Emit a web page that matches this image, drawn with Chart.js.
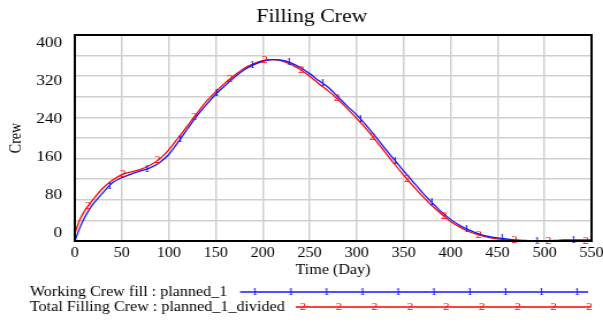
<!DOCTYPE html>
<html lang="en">
<head>
<meta charset="UTF-8">
<title>Filling Crew</title>
<script src="https://cdn.jsdelivr.net/npm/chart.js"></script>
<style>
  html, body { margin: 0; padding: 0; background: #fff; overflow: hidden; }
  /* the reference is a horizontally stretched Vensim plot, so draw narrow and stretch */
  #wrap { width: 524px; height: 323px; transform: scaleX(1.1508); transform-origin: 0 0; }
</style>
</head>
<body>
<div id="wrap"><canvas id="crewChart" width="524" height="323"></canvas></div>
<script>
const days = [0, 5, 10, 15, 20, 30, 40, 50, 60, 70, 80, 90, 100, 110, 120, 130, 140, 150, 160, 170,
  180, 190, 200, 210, 220, 230, 240, 250, 260, 270, 280, 290, 300, 310, 320, 330, 340, 350, 360, 370,
  380, 390, 400, 410, 420, 430, 440, 450, 460, 470, 480, 490, 500, 510, 520, 530, 540, 550];

const workingCrew = [0, 24, 44, 60, 73, 94, 113, 123, 130, 136, 142, 152, 168, 192, 218, 243, 265, 285, 302, 318,
  332, 342, 349, 352, 351, 346, 337, 325, 311, 298, 280, 262, 245, 225, 203, 180, 158, 136, 115, 94,
  75, 57, 42, 30, 21, 14, 9, 6, 4, 2, 1, 0, 0, 1, 2, 2, 2, 2];

const totalCrew = [15, 40, 57, 70, 82, 103, 118, 129, 134, 139, 147, 159, 177, 200, 224, 248, 271, 290, 307, 322,
  335, 344, 350, 352, 350, 343, 333, 320, 305, 291, 275, 257, 238, 218, 196, 173, 150, 128, 107, 87,
  69, 53, 38, 27, 18, 12, 7, 4, 2, 1, 0, 0, 0, 0, 0, 0, 0, 0];

// where the "1" and "2" labels sit along each line
const workingMarkerDays = [37, 77, 112, 151, 189, 228, 264, 304, 341, 380, 417, 455, 492, 531];
const totalMarkerDays = [14, 51, 88, 127, 165, 202, 241, 279, 317, 354, 393, 430, 468, 504, 544];

const yTickLabels = [0, 80, 160, 240, 320, 400];
const seriesNames = ['Working Crew fill : planned_1', 'Total Filling Crew : planned_1_divided'];
const seriesMarks = ['1', '2'];
const seriesColors = ['rgb(20,20,255)', 'rgb(255,0,0)'];

const serif = '"Liberation Serif", "Times New Roman", serif';

function valueAt(series, d) {
  for (let i = 1; i < days.length; i++) {
    if (d <= days[i]) {
      const f = (d - days[i - 1]) / (days[i] - days[i - 1]);
      return series[i - 1] + f * (series[i] - series[i - 1]);
    }
  }
  return series[series.length - 1];
}

const vensimDecor = {
  id: 'vensimDecor',
  afterDatasetsDraw(chart) {
    const { ctx, chartArea: a, scales: { x, y } } = chart;
    ctx.save();

    // markers on the curves
    ctx.font = '11px ' + serif;
    ctx.textAlign = 'center';
    ctx.textBaseline = 'middle';
    [[workingCrew, workingMarkerDays], [totalCrew, totalMarkerDays]].forEach(([series, marks], k) => {
      ctx.fillStyle = seriesColors[k];
      marks.forEach(d => {
        ctx.fillText(seriesMarks[k], x.getPixelForValue(d), y.getPixelForValue(valueAt(series, d)));
      });
    });

    // frame
    ctx.strokeStyle = '#000';
    ctx.lineWidth = 2;
    ctx.strokeRect(a.left, a.top, a.right - a.left, a.bottom - a.top);

    // y tick labels, squeezed a little toward the middle like Vensim does
    ctx.fillStyle = '#000';
    ctx.font = '15px ' + serif;
    ctx.textAlign = 'right';
    const mid = (a.top + a.bottom) / 2;
    yTickLabels.forEach(v => {
      const py = mid + (y.getPixelForValue(v) - mid) * 0.922;
      ctx.fillText(String(v), a.left - 11, py);
    });

    // title and axis titles
    ctx.textAlign = 'center';
    ctx.font = '19px ' + serif;
    ctx.fillText('Filling Crew', 271, 17);
    ctx.font = '14px ' + serif;
    ctx.fillText('Time (Day)', 289.4, 270);
    ctx.save();
    ctx.translate(14.8, 138);
    ctx.rotate(-Math.PI / 2);
    ctx.fillText('Crew', 0, 0);
    ctx.restore();

    // legend
    const rows = [
      { y: 292, x0: 208.6, x1: 511, m0: 221.6, n: 10 },
      { y: 307, x0: 257, x1: 513.6, m0: 263.3, n: 9 }
    ];
    rows.forEach((r, k) => {
      ctx.fillStyle = '#000';
      ctx.font = '14px ' + serif;
      ctx.textAlign = 'left';
      ctx.fillText(seriesNames[k], 26, r.y);
      ctx.strokeStyle = seriesColors[k];
      ctx.lineWidth = 1.3;
      ctx.beginPath();
      ctx.moveTo(r.x0, r.y);
      ctx.lineTo(r.x1, r.y);
      ctx.stroke();
      ctx.fillStyle = seriesColors[k];
      ctx.font = '11px ' + serif;
      ctx.textAlign = 'center';
      for (let i = 0; i < r.n; i++) ctx.fillText(seriesMarks[k], r.m0 + i * 31.1, r.y);
    });

    ctx.restore();
  }
};

const ctx = document.getElementById('crewChart').getContext('2d');
new Chart(ctx, {
  type: 'line',
  data: {
    datasets: [{
      label: seriesNames[0],
      data: days.map((d, i) => ({ x: d, y: workingCrew[i] })),
      borderColor: seriesColors[0],
      borderWidth: 1.3,
      pointRadius: 0,
      tension: 0.3,
      fill: false
    }, {
      label: seriesNames[1],
      data: days.map((d, i) => ({ x: d, y: totalCrew[i] })),
      borderColor: seriesColors[1],
      borderWidth: 1.3,
      pointRadius: 0,
      tension: 0.3,
      fill: false
    }]
  },
  options: {
    responsive: false,
    animation: false,
    devicePixelRatio: 1,
    layout: { padding: { left: 0, right: 10, top: 35, bottom: 52 } },
    plugins: { legend: { display: false }, tooltip: { enabled: false } },
    scales: {
      x: {
        type: 'linear',
        min: 0,
        max: 550,
        ticks: { stepSize: 50, maxRotation: 0, autoSkip: false, color: '#000', padding: 4,
                 font: { family: serif, size: 14 } },
        grid: { color: '#cfcfcf', lineWidth: 1.5, drawTicks: false },
        border: { display: false },
        afterFit: s => { s.height = 30; s.paddingLeft = 0; s.paddingRight = 0; }
      },
      y: {
        min: 0,
        max: 400,
        ticks: { stepSize: 40, display: false },
        grid: { color: '#cfcfcf', lineWidth: 1.5, drawTicks: false },
        border: { display: false },
        afterFit: s => { s.width = 65; s.paddingTop = 0; s.paddingBottom = 0; }
      }
    }
  },
  plugins: [vensimDecor]
});
</script>
</body>
</html>
